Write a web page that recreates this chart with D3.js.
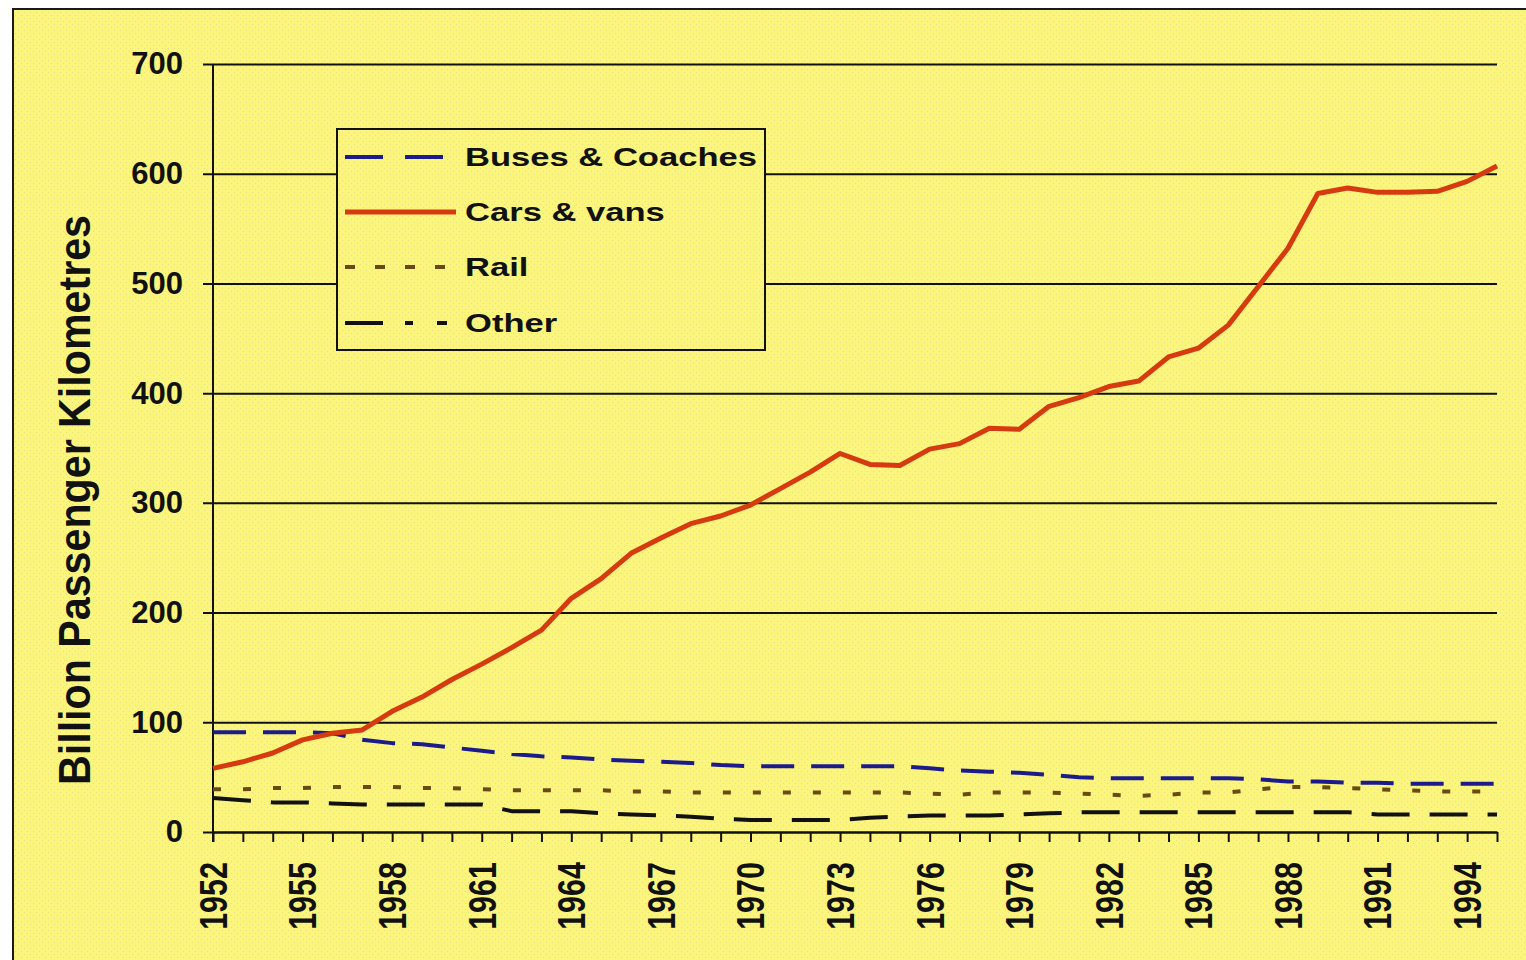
<!DOCTYPE html>
<html>
<head>
<meta charset="utf-8">
<script src="https://cdn.jsdelivr.net/npm/d3@7"></script>
<style>
  html, body { margin: 0; padding: 0; background: #ffffff; }
  svg { display: block; }
  text { font-family: "Liberation Sans", Arial, sans-serif; fill: #111; }
</style>
</head>
<body>
<svg id="chart" width="1526" height="960"></svg>
<script>
// ---------- DATA ----------
const years = [1952,1953,1954,1955,1956,1957,1958,1959,1960,1961,1962,1963,1964,1965,1966,1967,1968,1969,1970,1971,1972,1973,1974,1975,1976,1977,1978,1979,1980,1981,1982,1983,1984,1985,1986,1987,1988,1989,1990,1991,1992,1993,1994,1995];
const xTickLabels = ["1952","1955","1958","1961","1964","1967","1970","1973","1976","1979","1982","1985","1988","1991","1994"];
const yTicks = [0,100,200,300,400,500,600,700];
const seriesNames = ["Buses & Coaches","Cars & vans","Rail","Other"];
const busesCoaches = [91,91,91,91,90,84,81,80,77,74,71,69,68,66,65,64,63,61,60,60,60,60,60,60,58,56,55,54,52,50,49,49,49,49,49,48,46,46,45,45,44,44,44,44];
const carsVans = [58,64,72,84,90,93,110,123,139,153,168,184,213,231,254,268,281,288,298,313,328,345,335,334,349,354,368,367,388,396,406,411,433,441,462,497,532,582,587,583,583,584,593,607];
const rail = [39,39,40,40,41,41,41,40,40,39,38,38,38,38,37,37,36,36,36,36,36,36,36,36,35,34,36,36,36,35,34,33,34,36,36,39,41,41,40,39,38,37,37,37];
const other = [31,29,27,27,26,25,25,25,25,25,19,19,19,17,16,15,14,12,11,11,11,11,13,14,15,15,15,16,17,18,18,18,18,18,18,18,18,18,18,16,16,16,16,16];
const yTitle = "Billion Passenger Kilometres";

// ---------- LAYOUT / STYLE ----------
const svg = d3.select("#chart");
const plotLeft = 213, plotRight = 1497, plotTop = 64, plotBottom = 832;
const x = d3.scaleLinear().domain([years[0], years[years.length - 1]]).range([plotLeft, plotRight]);
const y = d3.scaleLinear().domain([0, 700]).range([plotBottom, plotTop]);

const styles = [
  { color: "#1b1b8c", width: 4, dash: "33,17", legendDash: "38,22" },
  { color: "#d63a10", width: 5, dash: null, legendDash: null },
  { color: "#6a4a12", width: 4, dash: "8,22", legendDash: "10,20" },
  { color: "#111111", width: 4, dash: "38,20", legendDash: "38,22,8,24,10,40" }
];
const seriesData = [busesCoaches, carsVans, rail, other];

// background with subtle dither texture
const defs = svg.append("defs");
const pat = defs.append("pattern").attr("id", "dither").attr("width", 6).attr("height", 6).attr("patternUnits", "userSpaceOnUse");
pat.append("rect").attr("width", 6).attr("height", 6).attr("fill", "#fbf67b");
pat.append("rect").attr("x", 0).attr("y", 0).attr("width", 1).attr("height", 1).attr("fill", "#e4df84");
pat.append("rect").attr("x", 3).attr("y", 3).attr("width", 1).attr("height", 1).attr("fill", "#e4df84");

svg.append("rect").attr("x", 13).attr("y", 9).attr("width", 1530).attr("height", 970)
  .attr("fill", "url(#dither)").attr("stroke", "#1a1a1a").attr("stroke-width", 2);

// Y axis with gridlines
const yAxis = d3.axisLeft(y).tickValues(yTicks).tickSize(-(plotRight - (plotLeft - 10))).tickPadding(20);
const gy = svg.append("g").attr("transform", `translate(${plotLeft - 10},0)`).call(yAxis);
gy.select(".domain").remove();
gy.selectAll(".tick line").attr("stroke", "#111").attr("stroke-width", 2);
gy.selectAll(".tick text").attr("font-size", 31).attr("font-weight", "bold").attr("fill", "#111")
  .attr("font-family", "'Liberation Sans', Arial, sans-serif");

// vertical axis line
svg.append("line").attr("x1", plotLeft).attr("x2", plotLeft).attr("y1", y(700)).attr("y2", plotBottom + 10)
  .attr("stroke", "#111").attr("stroke-width", 2);

// X axis with a tick each year
const xAxis = d3.axisBottom(x).tickValues(years).tickSize(10).tickSizeOuter(0).tickFormat("");
const gx = svg.append("g").attr("transform", `translate(0,${plotBottom})`).call(xAxis);
gx.select(".domain").attr("stroke", "#111").attr("stroke-width", 2);
gx.selectAll(".tick line").attr("stroke", "#111").attr("stroke-width", 2);

// rotated x labels
svg.append("g").selectAll("text").data(xTickLabels).join("text")
  .attr("transform", d => `translate(${x(+d)},862) rotate(-90) scale(1,1.27)`)
  .attr("text-anchor", "end").attr("dominant-baseline", "central")
  .attr("font-size", 30.5).attr("font-weight", "bold").text(d => d);

// Y title
svg.append("text").attr("transform", "translate(90,500) rotate(-90)")
  .attr("text-anchor", "middle").attr("font-size", 44).attr("font-weight", "bold")
  .attr("textLength", 570).attr("lengthAdjust", "spacingAndGlyphs")
  .text(yTitle);

// series lines
const line = d3.line().x((d, i) => x(years[i])).y(d => y(d));
const order = [2, 3, 0, 1];
order.forEach(k => {
  svg.append("path").datum(seriesData[k])
    .attr("d", line).attr("fill", "none")
    .attr("stroke", styles[k].color).attr("stroke-width", styles[k].width)
    .attr("stroke-dasharray", styles[k].dash)
    .attr("stroke-linejoin", "round");
});

// legend
const lg = svg.append("g");
lg.append("rect").attr("x", 337).attr("y", 129).attr("width", 428).attr("height", 221)
  .attr("fill", "url(#dither)").attr("stroke", "#111").attr("stroke-width", 2);
const rowY = [157, 212, 267, 323];
seriesNames.forEach((name, i) => {
  lg.append("line").attr("x1", 345).attr("x2", 456).attr("y1", rowY[i]).attr("y2", rowY[i])
    .attr("stroke", styles[i].color).attr("stroke-width", styles[i].width)
    .attr("stroke-dasharray", styles[i].legendDash);
  lg.append("text").attr("transform", `translate(465,${rowY[i]}) scale(1.33,1)`)
    .attr("dominant-baseline", "central")
    .attr("font-size", 26).attr("font-weight", "bold").text(name);
});
</script>
</body>
</html>
